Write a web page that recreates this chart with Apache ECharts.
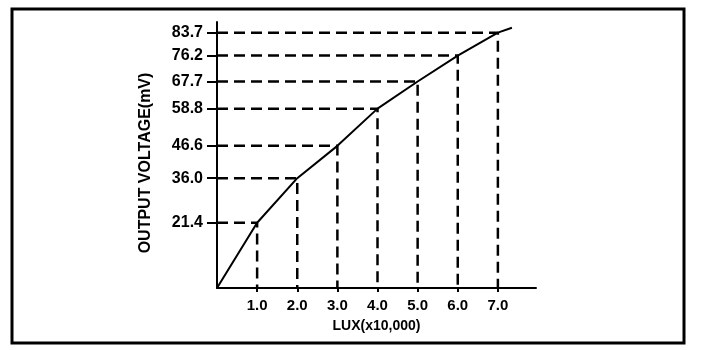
<!DOCTYPE html>
<html>
<head>
<meta charset="utf-8">
<script src="https://cdn.jsdelivr.net/npm/echarts@6/dist/echarts.min.js"></script>
<style>
html,body{margin:0;padding:0;background:#fff;}
#c{width:704px;height:350px;}
</style>
</head>
<body>
<div id="c"></div>
<script>
// Data
var luxValues = [1.0, 2.0, 3.0, 4.0, 5.0, 6.0, 7.0];
var voltageValues = [21.4, 36.0, 46.6, 58.8, 67.7, 76.2, 83.7];
var curveStart = [0, 0];
var curveEnd = [7.35, 85.3];
var xTickLabels = [1.0, 2.0, 3.0, 4.0, 5.0, 6.0, 7.0];
var yTickLabels = [21.4, 36.0, 46.6, 58.8, 67.7, 76.2, 83.7];

var FONT = '"Liberation Sans", Arial, sans-serif';

var chart = echarts.init(document.getElementById('c'), null, {renderer: 'canvas'});

var curveData = [curveStart];
for (var i = 0; i < luxValues.length; i++) curveData.push([luxValues[i], voltageValues[i]]);
curveData.push(curveEnd);

var series = [];
for (var j = 0; j < luxValues.length; j++) {
  series.push({
    type: 'line',
    data: [[0, voltageValues[j]], [luxValues[j], voltageValues[j]], [luxValues[j], 0]],
    symbol: 'none',
    silent: true,
    z: 2,
    lineStyle: {color: '#000', width: 2.5, type: [11, 6]}
  });
}
series.push({
  type: 'line',
  data: curveData,
  symbol: 'none',
  z: 3,
  lineStyle: {color: '#000', width: 2}
});

chart.setOption({
  animation: false,
  backgroundColor: '#fff',
  grid: {left: 217, top: 22, width: 319, height: 266},
  xAxis: {
    type: 'value',
    min: 0, max: 7.95,
    name: 'LUX(x10,000)',
    nameLocation: 'middle',
    nameGap: 31,
    nameTextStyle: {color: '#000', fontSize: 14, fontWeight: 'bold', fontFamily: FONT},
    axisLine: {show: true, lineStyle: {color: '#000', width: 2}},
    axisTick: {show: true, customValues: xTickLabels, length: 4, lineStyle: {color: '#000', width: 2}},
    axisLabel: {show: true, customValues: xTickLabels, margin: 10, color: '#000', fontSize: 15, fontWeight: 'bold', fontFamily: FONT,
      formatter: function (v) { return v.toFixed(1); }},
    splitLine: {show: false}
  },
  yAxis: {
    type: 'value',
    min: 0, max: 87.2,
    name: 'OUTPUT VOLTAGE(mV)',
    nameLocation: 'middle',
    nameGap: 63,
    nameRotate: 90,
    nameTextStyle: {color: '#000', fontSize: 16, fontWeight: 'bold', fontFamily: FONT, padding: [0, 16, 0, 0]},
    axisLine: {show: true, lineStyle: {color: '#000', width: 2}},
    axisTick: {show: true, customValues: yTickLabels, length: 10, lineStyle: {color: '#000', width: 2}},
    axisLabel: {show: true, customValues: yTickLabels, margin: 14, color: '#000', fontSize: 16, fontWeight: 'bold', fontFamily: FONT,
      formatter: function (v) { return v.toFixed(1); }},
    splitLine: {show: false}
  },
  graphic: [{
    type: 'rect',
    shape: {x: 12, y: 9, width: 672, height: 334},
    style: {fill: null, stroke: '#000', lineWidth: 3},
    silent: true
  }],
  series: series
});
</script>
</body>
</html>
